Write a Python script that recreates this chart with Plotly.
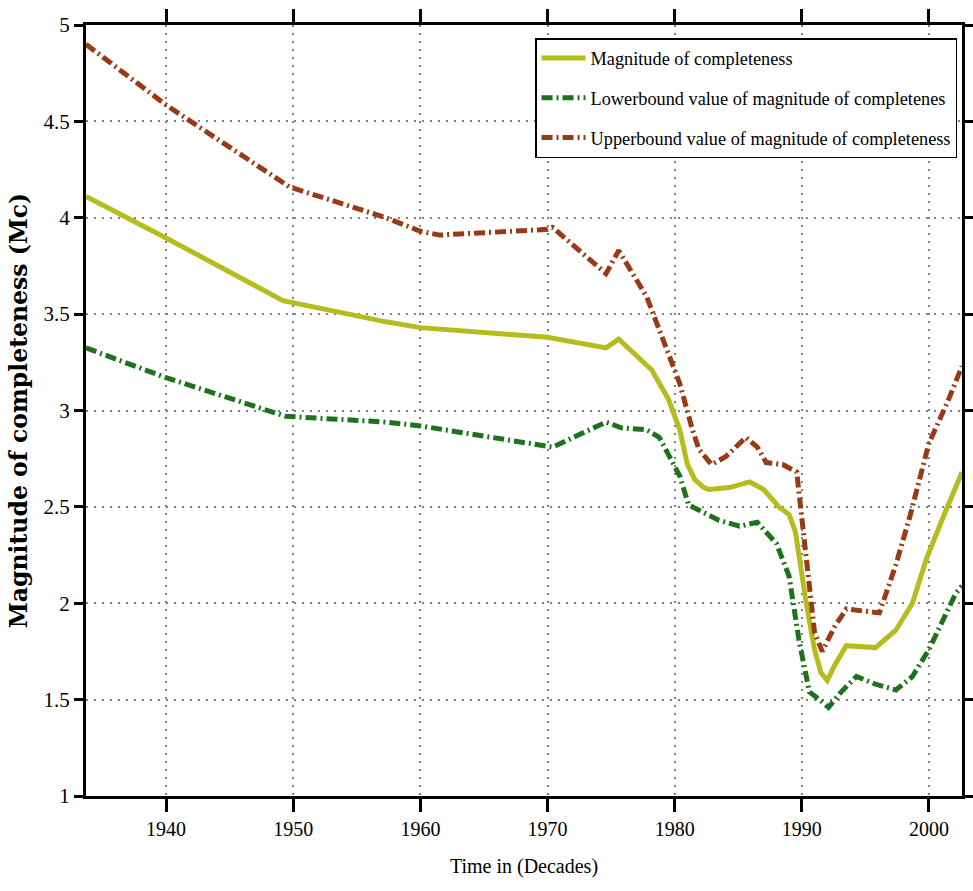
import plotly.graph_objects as go

# Magnitude of completeness (Mc) through time, with its lower and upper bounds
mc_years = [1933.7, 1940.0, 1949.2, 1957.3, 1960.0, 1970.0, 1974.6, 1975.6, 1978.2,
            1979.5, 1980.4, 1981.0, 1981.6, 1982.3, 1982.7, 1984.3, 1985.9, 1987.0,
            1988.2, 1989.0, 1989.5, 1989.8, 1990.3, 1991.0, 1991.5, 1992.0, 1992.6,
            1993.5, 1995.8, 1997.4, 1998.7, 1999.8, 2000.2, 2001.2, 2002.6]
mc_values = [4.11, 3.895, 3.57, 3.46, 3.43, 3.38, 3.325, 3.37, 3.21,
             3.06, 2.90, 2.72, 2.64, 2.60, 2.59, 2.60, 2.63, 2.59,
             2.50, 2.46, 2.37, 2.23, 2.02, 1.76, 1.64, 1.60, 1.68,
             1.78, 1.77, 1.86, 2.00, 2.23, 2.30, 2.46, 2.68]

low_years = [1933.7, 1940.0, 1949.4, 1957.3, 1960.0, 1970.0, 1970.4, 1974.6, 1975.8,
             1977.8, 1978.8, 1980.4, 1981.1, 1982.3, 1983.5, 1985.1, 1986.5, 1988.0,
             1989.0, 1989.8, 1990.6, 1991.4, 1992.1, 1993.1, 1994.3, 1995.8, 1997.4,
             1998.7, 2000.0, 2002.1, 2002.6]
low_values = [3.325, 3.17, 2.97, 2.94, 2.92, 2.82, 2.81, 2.94, 2.91,
              2.90, 2.86, 2.66, 2.51, 2.47, 2.43, 2.40, 2.42, 2.31,
              2.14, 1.80, 1.54, 1.50, 1.46, 1.54, 1.62, 1.58, 1.55,
              1.62, 1.76, 2.05, 2.09]

up_years = [1933.7, 1940.0, 1949.7, 1957.3, 1960.0, 1961.5, 1970.0, 1970.4, 1974.6,
            1975.6, 1977.8, 1979.8, 1980.4, 1981.4, 1981.9, 1982.9, 1984.0, 1985.6,
            1986.5, 1987.2, 1988.5, 1989.6, 1990.3, 1991.0, 1991.6, 1992.6, 1993.5,
            1996.1, 1997.4, 1998.5, 2000.0, 2001.5, 2002.6]
up_values = [4.90, 4.585, 4.16, 4.00, 3.93, 3.91, 3.94, 3.95, 3.71,
             3.83, 3.59, 3.25, 3.14, 2.90, 2.80, 2.72, 2.76, 2.86,
             2.81, 2.73, 2.72, 2.68, 2.28, 1.85, 1.75, 1.88, 1.97,
             1.95, 2.20, 2.45, 2.83, 3.05, 3.23]

x_ticks = [1940, 1950, 1960, 1970, 1980, 1990, 2000]
y_ticks = [1, 1.5, 2, 2.5, 3, 3.5, 4, 4.5, 5]

SERIF = "Liberation Serif, Times New Roman, serif"
DASHDOT = "11px,4px,2px,4px"

fig = go.Figure()
fig.add_trace(go.Scatter(
    x=mc_years, y=mc_values, mode="lines", name="Magnitude of completeness",
    legendgroup="a", line=dict(color="#b4bc1e", width=5)))
fig.add_trace(go.Scatter(
    x=low_years, y=low_values, mode="lines",
    name="Lowerbound value of magnitude of completenes",
    legendgroup="b", line=dict(color="#1d731d", width=5, dash=DASHDOT)))
fig.add_trace(go.Scatter(
    x=up_years, y=up_values, mode="lines",
    name="Upperbound value of magnitude of completeness",
    legendgroup="c", line=dict(color="#983a14", width=5, dash=DASHDOT)))

axis_common = dict(
    showline=True, linecolor="black", linewidth=3, mirror="ticks",
    ticks="outside", tickcolor="black", tickwidth=2.5,
    showgrid=True, gridcolor="#808080", gridwidth=1.5, griddash="2px,6px",
    zeroline=False, automargin=False,
)

fig.update_xaxes(
    range=[1933.7, 2002.6], tickvals=x_ticks, ticklen=13,
    tickfont=dict(family=SERIF, size=20, color="black"),
    title=dict(text="Time in (Decades)", standoff=20,
               font=dict(family=SERIF, size=20, color="black")),
    **axis_common)
fig.update_yaxes(
    range=[1, 5], tickvals=y_ticks, ticklen=9,
    tickfont=dict(family=SERIF, size=21, color="black"),
    title=dict(text="<b>Magnitude of completeness (Mc)</b>", standoff=10,
               font=dict(family="DejaVu Serif, serif", size=23.5, color="black")),
    **axis_common)

fig.update_layout(
    width=973, height=891,
    margin=dict(l=86, r=11, t=25, b=95, autoexpand=False),
    paper_bgcolor="white", plot_bgcolor="white",
    legend=dict(
        x=0.5126, y=0.983, xanchor="left", yanchor="top",
        bgcolor="white", bordercolor="black", borderwidth=1.5,
        font=dict(family=SERIF, size=18.3, color="black"),
        traceorder="grouped", tracegroupgap=13, itemwidth=44,
    ),
)

fig.write_html("out.html")
